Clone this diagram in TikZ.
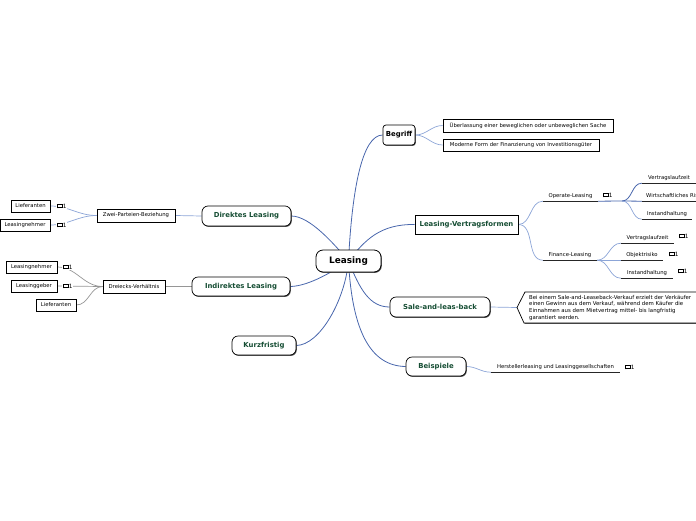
\documentclass[tikz,border=0pt]{standalone}
\usepackage{fontspec}
\setmainfont{DejaVu Sans}
\usetikzlibrary{shadows,backgrounds}
\definecolor{tgreen}{RGB}{22,78,52}
\definecolor{eblue}{RGB}{72,102,172}
\definecolor{lblue}{RGB}{140,165,215}
\definecolor{egrey}{RGB}{150,150,150}
\tikzset{
  shad/.style={drop shadow={shadow xshift=0.8pt,shadow yshift=-0.9pt,opacity=0.85,fill=black!80}},
  mainbox/.style={draw, line width=0.7pt, rounded corners=6pt, fill=white, shad, text=tgreen,
    font=\fontsize{6.9}{8}\selectfont\bfseries, minimum height=19pt, inner sep=0pt},
  subbox/.style={draw, line width=0.7pt, fill=white, shad, font=\fontsize{5.3}{6}\selectfont,
    minimum height=12pt, inner sep=0pt},
  ul/.style={font=\fontsize{5.3}{6}\selectfont, minimum height=10pt, inner sep=0pt},
  ulline/.style={line width=1.4pt, black!85},
  edge/.style={eblue, line width=0.8pt},
  ledge/.style={lblue, line width=0.7pt},
  gedge/.style={egrey, line width=0.7pt},
  cmt/.pic={\fill[white] (-4,-2.8) rectangle (7,2.8);
    \draw[black, line width=0.9pt] (-3,-1.6) rectangle (2,1.2);
    \fill[black] (-2.2,1.2) -- (-1,1.2) -- (-2.2,2.4) -- cycle;
    \node[font=\fontsize{5.8}{6}\selectfont, inner sep=0pt] at (4.6,0) {1};}
}
\begin{document}
\begin{tikzpicture}[x=1pt,y=-1pt]
\useasboundingbox (0,0) rectangle (696,520);

% central
\node[draw, line width=0.8pt, rounded corners=7pt, fill=white, shad, font=\fontsize{8.9}{10}\selectfont\bfseries,
  minimum width=65pt, minimum height=22pt, inner sep=0pt] (L) at (348.5,261) {Leasing};

% right main
\node[mainbox, text=black, rounded corners=3pt, minimum width=32pt, minimum height=20pt] (beg) at (399,135) {Begriff};
\node[mainbox, rounded corners=0pt, minimum width=103pt] (vf) at (466.5,224.5) {Leasing-Vertragsformen};
\node[mainbox, minimum width=100pt, minimum height=20pt] (sale) at (440,307) {Sale-and-leas-back};
\node[mainbox, minimum width=60pt] (bsp) at (436,366.5) {Beispiele};

% left main
\node[mainbox, minimum width=89pt, minimum height=20pt] (dir) at (246.5,216) {Direktes Leasing};
\node[mainbox, minimum width=98pt] (ind) at (241,286.5) {Indirektes Leasing};
\node[mainbox, minimum width=64pt] (kurz) at (264,345.5) {Kurzfristig};

% Begriff children
\node[subbox, minimum width=170pt, minimum height=13pt] (ueb) at (528,125.5) {Überlassung einer beweglichen oder unbeweglichen Sache};
\node[subbox, minimum width=156pt] (mod) at (521,145) {Moderne Form der Finanzierung von Investitionsgüter};

% Vertragsformen children
\node[ul, minimum width=55pt] (op) at (570.5,196) {Operate-Leasing};
\node[ul, minimum width=54pt] (fin) at (570,255) {Finance-Leasing};
\node[ul, minimum width=54pt] (vl1) at (669,178) {Vertragslaufzeit};
\node[ul, anchor=west] (wr) at (642,196) {\hspace{4pt}Wirtschaftliches Risiko\hspace{4pt}};
\node[ul, minimum width=50pt] (ih1) at (667,214) {Instandhaltung};
\node[ul, minimum width=53pt] (vl2) at (647.5,238) {Vertragslaufzeit};
\node[ul, minimum width=42pt] (obj) at (642,255) {Objektrisiko};
\node[ul, minimum width=52pt] (ih2) at (647,273) {Instandhaltung};

% Sale callout
\node[anchor=north west, inner sep=0pt, align=left, font=\fontsize{5.4}{6.6}\selectfont] (call) at (529,295)
 {Bei einem Sale-and-Leaseback-Verkauf erzielt der Verkäufer\\
  einen Gewinn aus dem Verkauf, während dem Käufer die\\
  Einnahmen aus dem Mietvertrag mittel- bis langfristig\\
  garantiert werden.};
\coordinate (cp) at (517,307.5);

% Beispiele child
\node[ul, minimum width=129pt] (her) at (555.5,367) {Herstellerleasing und Leasinggesellschaften};

% left children
\node[subbox, minimum width=78pt, minimum height=13pt] (zwei) at (136,215.5) {Zwei-Parteien-Beziehung};
\node[subbox, minimum width=39pt] (lf1) at (30.5,206) {Lieferanten};
\node[subbox, minimum width=50pt] (ln1) at (25,225) {Leasingnehmer};
\node[subbox, minimum width=62pt, minimum height=13pt] (drei) at (134,286.5) {Dreiecks-Verhältnis};
\node[subbox, minimum width=51pt] (ln2) at (31.5,267) {Leasingnehmer};
\node[subbox, minimum width=46pt] (lg) at (34,286) {Leasinggeber};
\node[subbox, minimum width=40pt] (lf2) at (56,305) {Lieferanten};

\begin{pgfonlayer}{background}
  \draw[edge] (L.center) .. controls (352,190) and (362,135) .. (beg.west);
  \draw[edge] (L.center) .. controls (365,240) and (380,224) .. (vf.west);
  \draw[edge] (L.center) .. controls (360,290) and (370,307) .. (sale.west);
  \draw[edge] (L.center) .. controls (352,330) and (370,366) .. (bsp.west);
  \draw[edge] (L.center) .. controls (345,300) and (320,345) .. (kurz.east);
  \draw[edge] (L.center) .. controls (335,270) and (310,286) .. (ind.east);
  \draw[edge] (L.center) .. controls (335,245) and (310,216) .. (dir.east);
  % begriff
  \draw[ledge] (beg.east) to[out=0,in=180] (ueb.west);
  \draw[ledge] (beg.east) to[out=0,in=180] (mod.west);
  % vertragsformen
  \draw[ledge] (vf.east) to[out=0,in=180] (op.south west);
  \draw[ledge] (vf.east) to[out=0,in=180] (fin.south west);
  \draw[edge] (op.south east) -- (622,201) to[out=0,in=180] (vl1.south west);
  \draw[edge] (622,201) -- (wr.south west);
  \draw[ledge] (622,201) to[out=0,in=180] (ih1.south west);
  \draw[ledge] (fin.south east) to[out=0,in=180] (vl2.south west);
  \draw[ledge] (fin.south east) -- (obj.south west);
  \draw[ledge] (fin.south east) to[out=0,in=180] (ih2.south west);
  \draw[ledge] (sale.east) -- (cp);
  \draw[ledge] (bsp.east) to[out=0,in=180] (her.south west);
  % left
  \draw[ledge] (dir.west) -- (zwei.east);
  \draw[ledge] (zwei.west) to[out=180,in=0] (lf1.east);
  \draw[ledge] (zwei.west) to[out=180,in=0] (ln1.east);
  \draw[gedge] (ind.west) -- (drei.east);
  \draw[gedge] (drei.west) to[out=180,in=0] (ln2.east);
  \draw[gedge] (drei.west) -- (lg.east);
  \draw[gedge] (drei.west) to[out=180,in=0] (lf2.east);
  % callout shape
  \filldraw[fill=white, draw=black, line width=0.7pt, shad] (525,292) -- (705,292) -- (705,323) -- (524,323) -- (cp) -- cycle;
\end{pgfonlayer}

% underlines
\foreach \n in {op,fin,vl1,wr,ih1,vl2,obj,ih2,her}
  \draw[ulline] (\n.south west) -- (\n.south east);

% comment icons
\foreach \p in {(606,195),(682,236),(672,254),(681,271),(628,367),(60,206),(60,225),(66,267),(66,286)}
  \pic at \p {cmt};
\end{tikzpicture}
\end{document}
